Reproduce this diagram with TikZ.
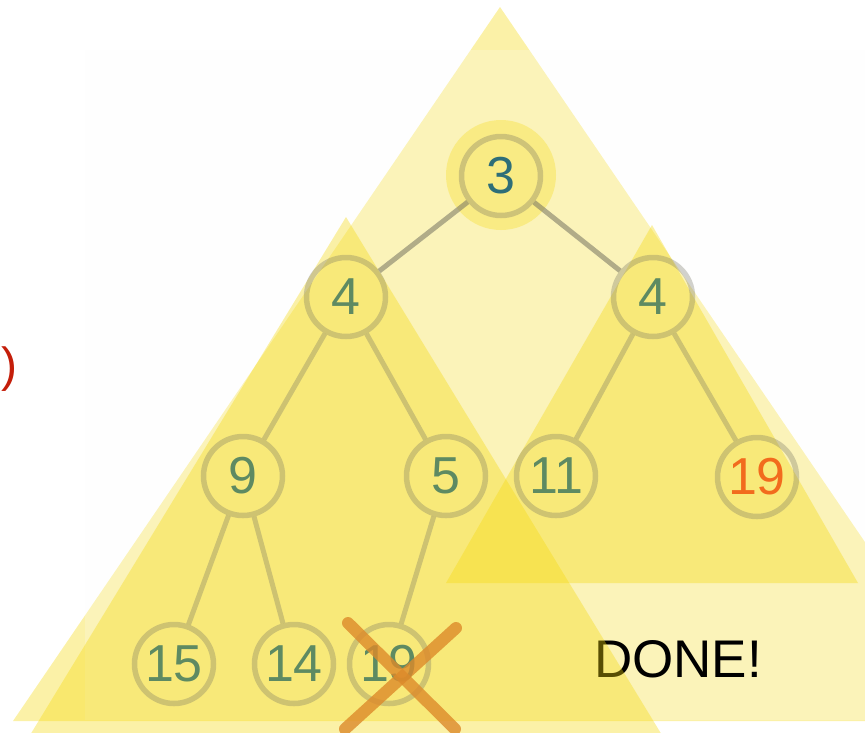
\documentclass[tikz,border=0pt]{standalone}
\usepackage{fontspec}
\setmainfont{Liberation Sans}
\definecolor{triY}{HTML}{F5D90A}
\definecolor{ringC}{HTML}{747262}
\definecolor{numC}{HTML}{5E8A62}
\definecolor{rootC}{HTML}{2E6E78}
\definecolor{orC}{HTML}{F26B1D}
\definecolor{xC}{HTML}{DD8A2A}
\definecolor{redC}{HTML}{C41E0A}
\definecolor{veil}{HTML}{FAFAFA}
\tikzset{
  tri/.style={fill=triY, fill opacity=0.36, draw=none},
  treenode/.style={circle, minimum size=79pt, inner sep=0pt, draw=ringC, line width=5.5pt, draw opacity=0.32, text=numC, font=\fontsize{52}{56}\selectfont},
  treeedge/.style={draw=ringC, line width=5pt, draw opacity=0.33},
  topedge/.style={draw=ringC, line width=5pt, draw opacity=0.55},
  crossline/.style={draw=xC, draw opacity=0.8, line width=12pt, line cap=round},
}
\begin{document}
\begin{tikzpicture}[x=1pt,y=-1pt]
\useasboundingbox (0,0) rectangle (865,732);
\clip (0,0) rectangle (865,732);
% big triangle
\fill[tri] (500,7) -- (987,721) -- (13,721) -- cycle;
% faint slide veil
\fill[veil, fill opacity=0.22] (85,50) rectangle (865,720);
% glow round the root
\fill[tri, fill opacity=0.3] (501,175) circle[radius=55];
% DONE!
\node[font=\fontsize{53}{58}\selectfont, inner sep=0pt] (done) at (678,659) {DONE!};
% left and right sub-triangles
\fill[tri] (346,217) -- (665,740) -- (27,740) -- cycle;
\fill[tri] (652,225) -- (858,583) -- (446,583) -- cycle;
% tree nodes
\node[treenode, text=rootC] (r) at (501,176) {3};
\node[treenode] (a) at (346,297) {4};
\node[treenode] (b) at (653,297) {4};
\node[treenode] (c) at (243,476) {9};
\node[treenode] (d) at (446,476) {5};
\node[treenode] (e) at (556,476) {11};
\node[treenode, text=orC] (f) at (757,477) {19};
\node[treenode] (g) at (174,664) {15};
\node[treenode] (h) at (294,664) {14};
\node[treenode] (i) at (389,664) {19};
% edges
\draw[topedge] (r) -- (a);
\draw[topedge] (r) -- (b);
\draw[treeedge] (a) -- (c);
\draw[treeedge] (a) -- (d);
\draw[treeedge] (b) -- (e);
\draw[treeedge] (b) -- (f);
\draw[treeedge] (c) -- (g);
\draw[treeedge] (c) -- (h);
\draw[treeedge] (d) -- (i);
% cross
\coordinate (xa) at (348,623);
\coordinate (xb) at (455,729);
\coordinate (xc) at (456,628);
\coordinate (xd) at (345,729);
\draw[crossline] (xa) -- (xb);
\draw[crossline] (xc) -- (xd);
% red paren at left edge
\node[text=redC, font=\fontsize{48}{52}\selectfont, inner sep=0pt] (paren) at (9,369) {)};
\end{tikzpicture}
\end{document}
